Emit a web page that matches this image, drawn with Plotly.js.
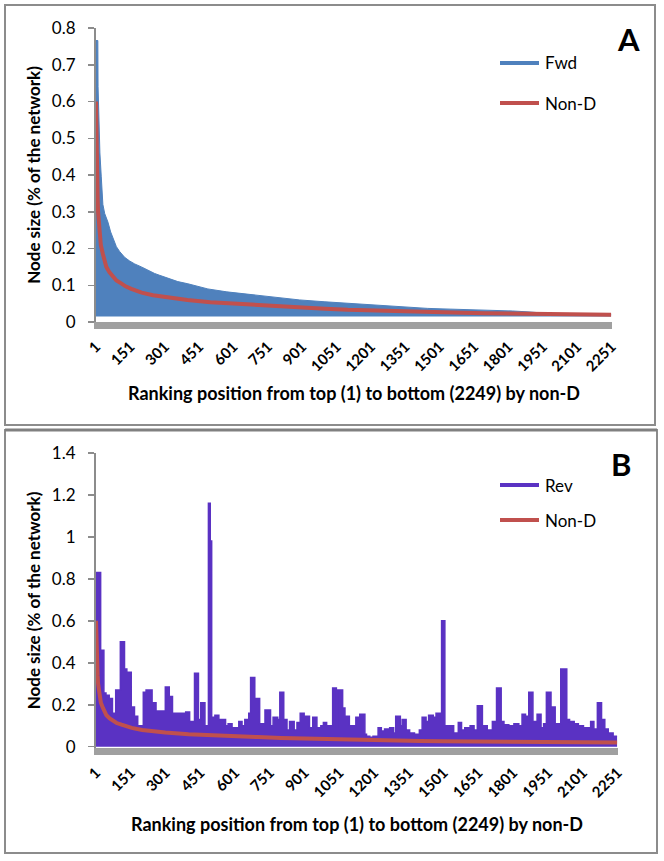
<!DOCTYPE html>
<html>
<head>
<meta charset="utf-8">
<script src="https://cdn.plot.ly/plotly-3.0.1.min.js"></script>
<style>
  body { margin: 0; background: #fff; }
  #plotly-div { width: 664px; height: 861px; }
</style>
</head>
<body>
<div id="plotly-div"></div>
<script>
// ranking positions shown on the category axis
var xTicks = [1, 151, 301, 451, 601, 751, 901, 1051, 1201, 1351, 1501, 1651, 1801, 1951, 2101, 2251];

// Non-D node size (same series in both panels)
var nonDRank = [1, 2, 4, 6, 8, 10, 13, 17, 22, 31, 46, 60, 75, 90, 111, 130, 155, 200, 250, 300,
                400, 500, 600, 700, 800, 900, 1000, 1100, 1200, 1300, 1400, 1500, 1600, 1700,
                1800, 1900, 2000, 2100, 2249];
var nonDSize = [0.60, 0.52, 0.44, 0.38, 0.34, 0.30, 0.27, 0.24, 0.21, 0.185, 0.15, 0.135, 0.123, 0.113,
                0.105, 0.097, 0.09, 0.08, 0.073, 0.068, 0.06, 0.054, 0.05, 0.046, 0.042, 0.039, 0.036,
                0.033, 0.031, 0.029, 0.027, 0.026, 0.025, 0.024, 0.023, 0.022, 0.021, 0.021, 0.020];

// Fwd: dense series, drawn as the band between its lower and upper envelope
var fwdRank = [1, 9, 10, 14, 18, 24, 31, 39, 53, 65, 75, 90, 104, 126, 148, 170, 199, 228, 257, 279,
               315, 358, 402, 446, 489, 572, 640, 703, 800, 890, 1000, 1073, 1186, 1260, 1350, 1449,
               1550, 1636, 1750, 1820, 1900, 1950, 2000, 2100, 2249];
var fwdHigh = [0.766, 0.766, 0.64, 0.53, 0.46, 0.395, 0.32, 0.295, 0.272, 0.245, 0.228, 0.205, 0.192,
               0.176, 0.166, 0.158, 0.15, 0.14, 0.132, 0.127, 0.12, 0.11, 0.104, 0.096, 0.09, 0.082,
               0.077, 0.073, 0.066, 0.06, 0.055, 0.052, 0.046, 0.043, 0.04, 0.037, 0.035, 0.034, 0.031,
               0.03, 0.027, 0.024, 0.022, 0.021, 0.021];
var fwdLow = [0.015, 0.015, 0.015, 0.015, 0.015, 0.015, 0.015, 0.015, 0.015, 0.015, 0.015, 0.015,
              0.015, 0.015, 0.015, 0.015, 0.015, 0.015, 0.015, 0.015, 0.015, 0.015, 0.015, 0.015,
              0.015, 0.015, 0.015, 0.015, 0.015, 0.015, 0.015, 0.015, 0.015, 0.015, 0.015, 0.015,
              0.015, 0.015, 0.015, 0.015, 0.015, 0.015, 0.015, 0.015, 0.015];

// Rev: peaks of the dense series, as steps starting at each rank
var revRank = [1, 21, 35, 44, 58, 72, 86, 106, 124, 134, 153, 167, 181, 205, 217, 243, 260, 300, 317,
               331, 388, 405, 426, 443, 453, 471, 486, 494, 500, 514, 531, 560, 571, 588, 617, 631,
               643, 660, 668, 686, 707, 730, 754, 765, 785, 794, 811, 825, 836, 856, 868, 882, 899,
               922, 936, 954, 971, 982, 996, 1022, 1038, 1042, 1065, 1075, 1094, 1122, 1139, 1161,
               1168, 1182, 1196, 1218, 1232, 1246, 1268, 1285, 1294, 1314, 1322, 1339, 1354, 1375,
               1396, 1408, 1425, 1436, 1456, 1468, 1492, 1506, 1544, 1564, 1578, 1592, 1615, 1632,
               1646, 1668, 1689, 1711, 1729, 1749, 1761, 1782, 1804, 1825, 1839, 1854, 1868, 1886,
               1904, 1921, 1932, 1944, 1964, 1982, 2006, 2032, 2044, 2064, 2082, 2104, 2135, 2149,
               2164, 2182, 2196, 2211, 2232, 2249];
var revSize = [0.83, 0.46, 0.256, 0.245, 0.23, 0.16, 0.27, 0.50, 0.37, 0.355, 0.19, 0.145, 0.10, 0.26,
               0.27, 0.21, 0.17, 0.285, 0.24, 0.16, 0.165, 0.12, 0.35, 0.13, 0.21, 0.10, 1.16, 0.98,
               0.14, 0.15, 0.13, 0.10, 0.11, 0.09, 0.12, 0.10, 0.13, 0.16, 0.33, 0.23, 0.11, 0.175,
               0.10, 0.14, 0.13, 0.26, 0.13, 0.08, 0.12, 0.08, 0.115, 0.16, 0.145, 0.09, 0.14, 0.09,
               0.10, 0.115, 0.10, 0.28, 0.09, 0.27, 0.185, 0.145, 0.10, 0.14, 0.155, 0.06, 0.05,
               0.045, 0.05, 0.09, 0.075, 0.085, 0.09, 0.065, 0.145, 0.10, 0.13, 0.08, 0.065, 0.06,
               0.08, 0.14, 0.12, 0.15, 0.14, 0.16, 0.60, 0.10, 0.065, 0.115, 0.08, 0.09, 0.10, 0.08,
               0.195, 0.10, 0.08, 0.12, 0.28, 0.12, 0.105, 0.10, 0.11, 0.10, 0.155, 0.145, 0.26,
               0.12, 0.155, 0.09, 0.11, 0.26, 0.19, 0.11, 0.37, 0.13, 0.12, 0.11, 0.10, 0.09, 0.12,
               0.085, 0.21, 0.13, 0.085, 0.065, 0.05, 0.05];

var W = 664, H = 861;
function px(x) { return x / W; }
function py(y) { return 1 - y / H; }

var blue = '#4f81bd', red = '#c0504d', purple = '#5a32c3';
var font = 'Lato, "DejaVu Sans", sans-serif';

var data = [
  { x: fwdRank, y: fwdLow, type: 'scatter', mode: 'lines', line: { width: 0, color: blue },
    hoverinfo: 'skip', showlegend: false, xaxis: 'x', yaxis: 'y' },
  { x: fwdRank, y: fwdHigh, type: 'scatter', mode: 'lines', name: 'Fwd', fill: 'tonexty',
    fillcolor: blue, line: { width: 1, color: blue }, showlegend: false, xaxis: 'x', yaxis: 'y' },
  { x: nonDRank, y: nonDSize, type: 'scatter', mode: 'lines', name: 'Non-D',
    line: { width: 4, color: red }, showlegend: false, xaxis: 'x', yaxis: 'y' },
  { x: revRank, y: revSize, type: 'scatter', mode: 'lines', name: 'Rev', fill: 'tozeroy',
    fillcolor: purple, line: { width: 1.5, color: purple, shape: 'hv' }, showlegend: false,
    xaxis: 'x2', yaxis: 'y2' },
  { x: nonDRank, y: nonDSize, type: 'scatter', mode: 'lines', name: 'Non-D',
    line: { width: 4, color: red }, showlegend: false, xaxis: 'x2', yaxis: 'y2' }
];

function xAxis(domain, anchor, standoff) {
  return {
    domain: domain, anchor: anchor, range: [1, 2253],
    tickmode: 'array', tickvals: xTicks, tickangle: -45, ticks: '',
    tickfont: { family: font, size: 15, weight: 'bold', color: '#000' },
    showline: true, linecolor: '#a0a0a0', linewidth: 7,
    showgrid: false, zeroline: false, ticklabelstandoff: 3,
    title: { text: 'Ranking position from top (1) to bottom (2249) by non-D', standoff: standoff,
             font: { family: font, size: 18, weight: 'bold', color: '#000' } }
  };
}
function yAxis(domain, anchor, range, dtick) {
  return {
    domain: domain, anchor: anchor, range: range, dtick: dtick, tick0: 0,
    ticks: 'outside', ticklen: 6, tickwidth: 1.5, tickcolor: '#8c8c8c',
    tickfont: { family: font, size: 17, color: '#000' }, ticklabelstandoff: 9,
    showline: true, linecolor: '#8c8c8c', linewidth: 2,
    showgrid: false, zeroline: false,
    title: { text: 'Node size (% of the network)', standoff: 7,
             font: { family: font, size: 17, weight: 'bold', color: '#000' } }
  };
}

var shapes = [
  { type: 'rect', xref: 'paper', yref: 'paper', x0: px(5), x1: px(655), y0: py(425), y1: py(5),
    line: { color: '#8c8c8c', width: 2 } },
  { type: 'rect', xref: 'paper', yref: 'paper', x0: px(5), x1: px(657), y0: py(853), y1: py(430),
    line: { color: '#8c8c8c', width: 2 } },
  { type: 'line', xref: 'paper', yref: 'paper', x0: px(5), x1: px(657), y0: py(430), y1: py(430),
    line: { color: '#808080', width: 3 } }
];
var annotations = [];

function legendItem(label, color, y) {
  shapes.push({ type: 'line', xref: 'paper', yref: 'paper', x0: px(500), x1: px(539),
                y0: py(y), y1: py(y), line: { color: color, width: 4 } });
  annotations.push({ xref: 'paper', yref: 'paper', x: px(543), y: py(y), text: label,
                     showarrow: false, xanchor: 'left', yanchor: 'middle',
                     font: { family: font, size: 17, color: '#000' } });
}
legendItem('Fwd', blue, 63);
legendItem('Non-D', red, 103);
legendItem('Rev', purple, 485);
legendItem('Non-D', red, 520);

annotations.push({ xref: 'paper', yref: 'paper', x: px(628), y: py(39), text: 'A', showarrow: false,
                   xanchor: 'center', yanchor: 'middle',
                   font: { family: font, size: 31, weight: 'bold', color: '#000' } });
annotations.push({ xref: 'paper', yref: 'paper', x: px(621), y: py(464), text: 'B', showarrow: false,
                   xanchor: 'center', yanchor: 'middle',
                   font: { family: font, size: 31, weight: 'bold', color: '#000' } });

var layout = {
  width: W, height: H,
  margin: { l: 0, r: 0, t: 0, b: 0 },
  paper_bgcolor: '#fff', plot_bgcolor: '#fff',
  showlegend: false,
  xaxis: xAxis([px(96), px(612)], 'y', 16),
  yaxis: yAxis([py(322), py(28)], 'x', [0, 0.8], 0.1),
  xaxis2: xAxis([px(96), px(618)], 'y2', 21),
  yaxis2: yAxis([py(748), py(453)], 'x2', [-0.006, 1.4], 0.2),
  shapes: shapes,
  annotations: annotations
};

Plotly.newPlot('plotly-div', data, layout, { displayModeBar: false, staticPlot: true });
</script>
</body>
</html>
